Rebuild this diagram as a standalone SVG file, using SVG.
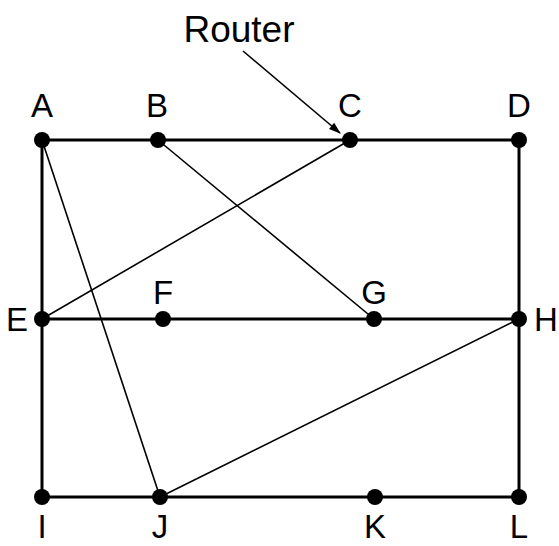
<svg xmlns="http://www.w3.org/2000/svg" width="559" height="546" viewBox="0 0 559 546">
<style>
.axis{stroke:#000;stroke-width:3;fill:none}
.diag{stroke:#000;stroke-width:1.6;fill:none}
.dot{fill:#000}
text{font-family:"Liberation Sans",Arial,sans-serif;font-size:33px;fill:#000;text-anchor:middle}
</style>
<defs>
<marker id="arr" viewBox="0 0 12 10" refX="11" refY="5" markerWidth="13" markerHeight="10" markerUnits="userSpaceOnUse" orient="auto">
<path d="M0,1 L12,5 L0,9 Z" fill="#000"/>
</marker>
</defs>
<rect width="559" height="546" fill="#fff"/>
<g id="connectors">
<line class="axis" x1="42" y1="140" x2="519" y2="140"/>
<line class="axis" x1="42" y1="319" x2="519" y2="319"/>
<line class="axis" x1="42" y1="497" x2="519" y2="497"/>
<line class="axis" x1="42" y1="140" x2="42" y2="497"/>
<line class="axis" x1="519" y1="140" x2="519" y2="497"/>
<line class="diag" x1="42" y1="140" x2="160" y2="497"/>
<line class="diag" x1="158" y1="140" x2="374" y2="319"/>
<line class="diag" x1="350" y1="140" x2="42" y2="319"/>
<line class="diag" x1="519" y1="319" x2="160" y2="497"/>
<line class="diag" x1="243" y1="51" x2="340" y2="133" stroke-width="1.3" marker-end="url(#arr)"/>
</g>
<g id="router"><text x="239" y="42" style="font-size:37px">Router</text></g>
<g id="A"><circle class="dot" cx="42" cy="140" r="8"/><text x="42" y="117">A</text></g>
<g id="B"><circle class="dot" cx="158" cy="140" r="8"/><text x="157" y="117">B</text></g>
<g id="C"><circle class="dot" cx="350" cy="140" r="8"/><text x="350" y="117">C</text></g>
<g id="D"><circle class="dot" cx="519" cy="140" r="8"/><text x="519" y="117">D</text></g>
<g id="E"><circle class="dot" cx="42" cy="319" r="8"/><text x="17" y="331">E</text></g>
<g id="F"><circle class="dot" cx="163" cy="319" r="8"/><text x="163" y="304">F</text></g>
<g id="G"><circle class="dot" cx="374" cy="319" r="8"/><text x="374" y="304">G</text></g>
<g id="H"><circle class="dot" cx="519" cy="319" r="8"/><text x="546" y="331">H</text></g>
<g id="I"><circle class="dot" cx="42" cy="497" r="8"/><text x="42" y="538">I</text></g>
<g id="J"><circle class="dot" cx="160" cy="497" r="8"/><text x="160" y="538">J</text></g>
<g id="K"><circle class="dot" cx="375" cy="497" r="8"/><text x="375" y="538">K</text></g>
<g id="L"><circle class="dot" cx="519" cy="497" r="8"/><text x="519" y="538">L</text></g>
</svg>
